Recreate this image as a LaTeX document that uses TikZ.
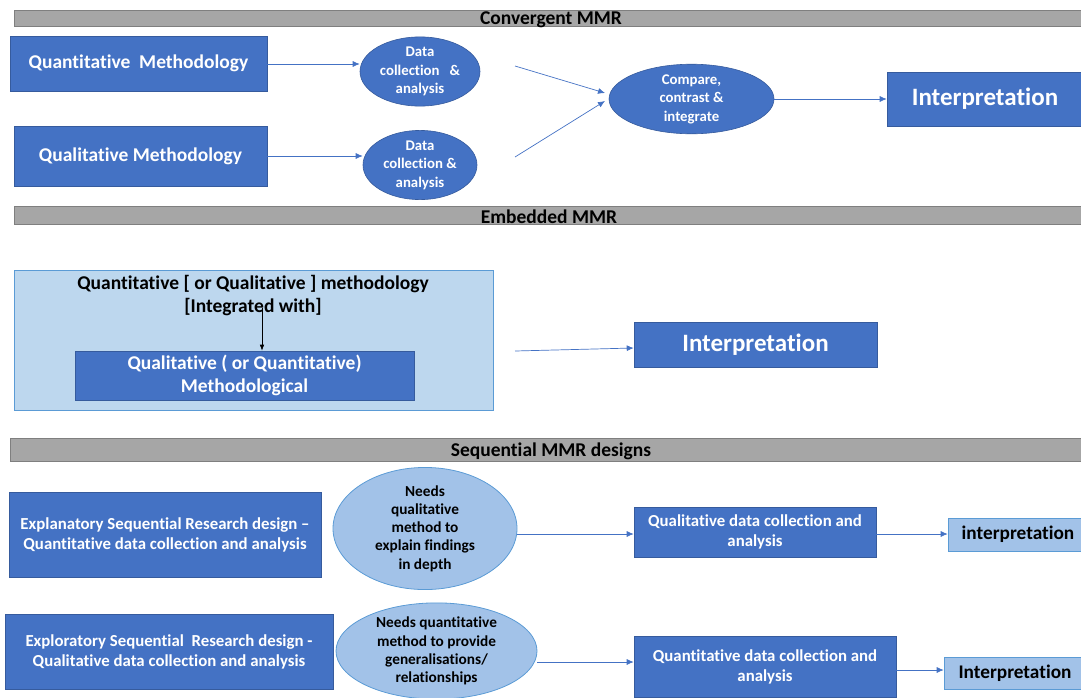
\documentclass[tikz,border=0pt]{standalone}
\usepackage{fontspec}
\setmainfont{Carlito}[Ligatures=NoCommon]
\usetikzlibrary{arrows.meta,shapes.geometric}
\definecolor{darkblue}{HTML}{4472C4}
\definecolor{paleblue}{HTML}{BDD7EE}
\definecolor{softblue}{HTML}{A2C2E8}
\definecolor{edgeblue}{HTML}{5B9BD5}
\definecolor{bargray}{HTML}{A6A6A6}
\definecolor{bargrayedge}{HTML}{7F7F7F}
\tikzset{
  x=1pt, y=-1pt,
  bar/.style={draw=bargrayedge, fill=bargray, line width=0.8pt, anchor=north west, inner sep=0pt},
  bartext/.style={font=\bfseries\fontsize{19.5}{20}\selectfont, inner sep=0pt, text=black},
  bluebox/.style={draw=darkblue!80!black, fill=darkblue, line width=0.6pt, inner sep=0pt,
    text=white, font=\bfseries\fontsize{19.5}{23}\selectfont, align=center},
  seqbox/.style={bluebox, font=\bfseries\fontsize{16.8}{20}\selectfont},
  bigbox/.style={bluebox, font=\bfseries\fontsize{25}{28}\selectfont},
  lightbox/.style={draw=edgeblue, fill=softblue, line width=0.6pt, inner sep=0pt,
    text=black, align=center, font=\bfseries\fontsize{19.3}{22}\selectfont},
  blueoval/.style={ellipse, draw=darkblue!80!black, fill=darkblue, line width=0.6pt, inner sep=0pt,
    text=white, font=\bfseries\fontsize{14.8}{18.5}\selectfont, align=center},
  paleoval/.style={ellipse, draw=edgeblue, fill=softblue, line width=0.8pt, inner sep=0pt,
    text=black, font=\bfseries\fontsize{15.3}{18.3}\selectfont, align=center},
  flow/.style={draw=darkblue, line width=0.7pt, -{Latex[length=7pt,width=6pt]}},
  blackflow/.style={draw=black, line width=0.6pt, -{Latex[length=6pt,width=4.5pt]}},
}
\begin{document}
\begin{tikzpicture}
\useasboundingbox (0,0) rectangle (1081,697);

% ---------- Convergent MMR ----------
\node[bar, minimum width=1067, minimum height=16] (barA) at (14,10) {};
\node[bartext] (barAtxt) at (551,19.5) {Convergent MMR};

\node[bluebox, minimum width=257, minimum height=55] (quant) at (138.5,63.5) {Quantitative\ \ Methodology};
\node[bluebox, minimum width=253, minimum height=60] (qual) at (140.5,156) {Qualitative Methodology};
\node[blueoval, minimum width=120, minimum height=57] (dc1) at (420,71.5) {Data\\collection\ \ \ \&\\analysis};
\node[blueoval, minimum width=114, minimum height=56] (dc2) at (420,165) {Data\\collection \&\\analysis};
\node[blueoval, minimum width=165, minimum height=68] (cmp) at (691.5,99) {Compare,\\contrast \&\\integrate};
\node[bigbox, minimum width=196, minimum height=54] (interpA) at (985,99) {Interpretation};

\draw[flow] (quant.east |- 0,64) -- (dc1.west |- 0,64);
\draw[flow] (qual.east |- 0,156) -- (dc2.west |- 0,156);
\coordinate (j1) at (515,66);
\coordinate (j2) at (515,157);
\draw[flow] (j1) -- (605,93);
\draw[flow] (j2) -- (605,101);
\draw[flow] (cmp.east) -- (interpA.west);

% ---------- Embedded MMR ----------
\node[bar, minimum width=1067, minimum height=18] (barB) at (14,206) {};
\node[bartext] (barBtxt) at (549,216.5) {Embedded MMR};

\node[draw=edgeblue, fill=paleblue, line width=0.8pt, minimum width=479, minimum height=140, inner sep=0pt] (emb) at (253.5,340) {};
\node[align=center, font=\bfseries\fontsize{19.5}{23}\selectfont, inner sep=0pt] (embtxt) at (253,295.5)
  {Quantitative [ or Qualitative ] methodology\\{[}Integrated with{]}};
\node[bluebox, minimum width=339, minimum height=49] (inner) at (244.5,375.5)
  {Qualitative ( or Quantitative)\\Methodological};
\coordinate (dropTop) at (262,308);
\draw[blackflow] (dropTop) -- (inner.north -| dropTop);

\coordinate (embOut) at (515,351);
\node[bigbox, minimum width=243, minimum height=45] (interpB) at (755.5,344.5) {Interpretation};
\draw[flow] (embOut) -- (interpB.west |- 0,348);

% ---------- Sequential MMR designs ----------
\node[bar, minimum width=1071, minimum height=23] (barC) at (10,438) {};
\node[bartext] (barCtxt) at (551,451) {Sequential MMR designs};

\node[seqbox, minimum width=312, minimum height=85] (expl) at (165,534.5)
  {Explanatory Sequential Research design --\\Quantitative data collection and analysis};
\node[paleoval, minimum width=184, minimum height=95] (need1) at (425,528.5)
  {Needs\\qualitative\\method to\\explain findings\\in depth};
\node[seqbox, minimum width=242, minimum height=50] (qdc) at (755,532)
  {Qualitative data collection and\\analysis};
\node[lightbox, minimum width=140, minimum height=33] (interpC) at (1018,534.5) {interpretation};
\draw[flow] (need1.east |- 0,534) -- (qdc.west |- 0,534);
\draw[flow] (qdc.east |- 0,534) -- (interpC.west |- 0,534);

\node[seqbox, minimum width=328, minimum height=75] (explo) at (169,651.5)
  {Exploratory Sequential\ \ Research design -\\Qualitative data collection and analysis};
\node[paleoval, minimum width=201, minimum height=94] (need2) at (436.5,651)
  {Needs quantitative\\method to provide\\generalisations/\\relationships};
\node[seqbox, minimum width=262, minimum height=61] (ndc) at (765,667)
  {Quantitative data collection and\\analysis};
\node[lightbox, minimum width=142, minimum height=32] (interpD) at (1015,673) {Interpretation};
\draw[flow] (need2.east |- 0,662) -- (ndc.west |- 0,662);
\draw[flow] (ndc.east |- 0,670) -- (interpD.west |- 0,670);
\end{tikzpicture}
\end{document}
